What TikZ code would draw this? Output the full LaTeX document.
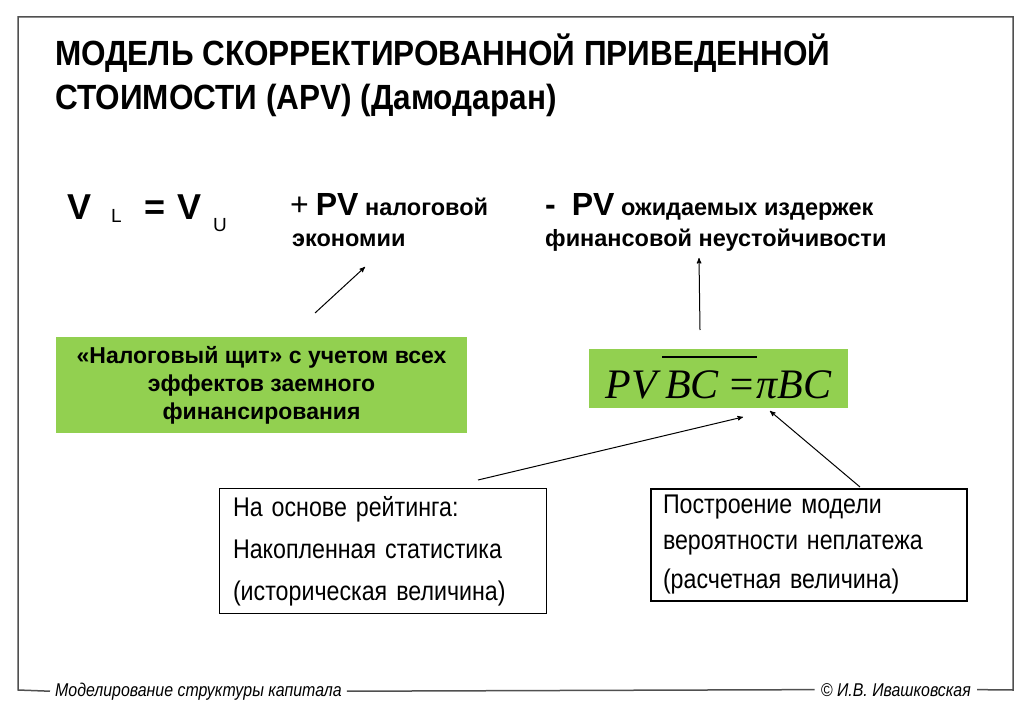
\documentclass[tikz,border=0pt]{standalone}
\usepackage{fontspec}
\setmainfont{Liberation Sans}
\newfontfamily\narrowfont{Liberation Sans}[FakeStretch=0.86]
\newfontfamily\titlefont{Liberation Sans}[FakeStretch=0.9]
\newfontfamily\formfont{Liberation Serif}
\usetikzlibrary{positioning,arrows}
\definecolor{leafgreen}{RGB}{146,208,80}
\definecolor{framegray}{RGB}{80,80,80}
\tikzset{
arr/.style={->,>=stealth',line width=1pt},
ttl/.style={anchor=base west,inner sep=0,font=\titlefont\bfseries\fontsize{35}{40}\selectfont},
big/.style={anchor=base west,inner sep=0,font=\bfseries\fontsize{36}{40}\selectfont},
sub/.style={anchor=base west,inner sep=0,font=\fontsize{19}{22}\selectfont},
pv/.style={anchor=base west,inner sep=0,font=\bfseries\fontsize{23.5}{28}\selectfont},
grn/.style={fill=leafgreen,inner sep=0,align=center},
obox/.style={draw,line width=1pt,anchor=north west,align=left,inner sep=0,
  font=\narrowfont\fontsize{27}{42}\selectfont},
foot/.style={inner sep=0,font=\narrowfont\itshape\fontsize{18.5}{22}\selectfont},
}
\begin{document}
\begin{tikzpicture}[x=1pt,y=-1pt]
\useasboundingbox[fill=white] (0,0) rectangle (1024,708);

% title
\node[ttl] (title1) at (55,66) {МОДЕЛЬ СКОРРЕКТИРОВАННОЙ ПРИВЕДЕННОЙ};
\node[ttl] (title2) at (55,110) {СТОИМОСТИ (APV) (Дамодаран)};

% V_L = V_U
\node[big] (vl) at (67,220) {V};
\node[sub] (lsub) at (111,223) {L};
\node[big] (eq) at (144,220) {=};
\node[big] (vu) at (177,220) {V};
\node[sub] (usub) at (213,232) {U};

\node[pv] (pvtax) at (290,216) {{\mdseries\fontsize{32}{34}\selectfont +\hspace{7pt}}%
  {\fontsize{32}{34}\selectfont PV} налоговой};
\node[pv] (econ) at (292,247) {экономии};

\node[pv] (pvcost) at (545,216) {{\fontsize{32}{34}\selectfont -\hspace{16pt}PV} ожидаемых издержек};
\node[pv] (fin) at (545,247) {финансовой неустойчивости};

% green boxes
\node[grn,minimum width=411pt,minimum height=96pt,
  font=\bfseries\fontsize{23}{28}\selectfont] (shield) at (261.5,385)
  {«Налоговый щит» с учетом всех\\эффектов заемного\\финансирования};
\node[grn,minimum width=259pt,minimum height=59pt,text height=49pt,text depth=10pt,
  font=\formfont\itshape\fontsize{42}{44}\selectfont] (pvbc) at (718.5,378.5)
  {PV\hspace{5pt}\rlap{\smash{\rule[40pt]{95pt}{1.6pt}}}\hspace{3pt}BC\hspace{9pt}=πBC};

% source boxes
\node[obox,minimum width=327pt,minimum height=125pt,text width=318pt] (rating) at (219,488)
  {\hspace{9pt}На основе рейтинга:\\\hspace{9pt}Накопленная статистика\\\hspace{9pt}(историческая величина)};
\node[obox,line width=2pt,minimum width=316pt,minimum height=112pt,text width=306pt,
  font=\narrowfont\fontsize{27}{36}\selectfont] (model) at (650,488)
  {\hspace{7pt}Построение модели\\\hspace{7pt}вероятности неплатежа\\[3pt]\hspace{7pt}(расчетная величина)};

% arrows
\coordinate (a1s) at (315,313);
\coordinate (a1e) at (365,267);
\draw[arr] (a1s) -- (a1e);
\coordinate (a2s) at (700,330);
\coordinate (a2e) at (699,258);
\draw[arr] (a2s) -- (a2e);
\coordinate (a3s) at (478,480);
\coordinate (a3e) at (743,417);
\draw[arr] (a3s) -- (a3e);
\coordinate (a4s) at (860,487);
\coordinate (a4e) at (770,411);
\draw[arr] (a4s) -- (a4e);

% frame and footer
\node[foot,anchor=base west] (course) at (55,696) {Моделирование структуры капитала};
\node[foot,anchor=base east] (author) at (971,696) {© И.В. Ивашковская};
\draw[framegray,line width=1.5pt] ([xshift=-5pt]course.west) -- (18,690) -- (18,17)
  -- (1013,17) -- (1013,690) -- ([xshift=6pt]author.east);
\draw[framegray,line width=1.5pt] ([xshift=5pt]course.east) -- ([xshift=-6pt]author.west);
\end{tikzpicture}
\end{document}
